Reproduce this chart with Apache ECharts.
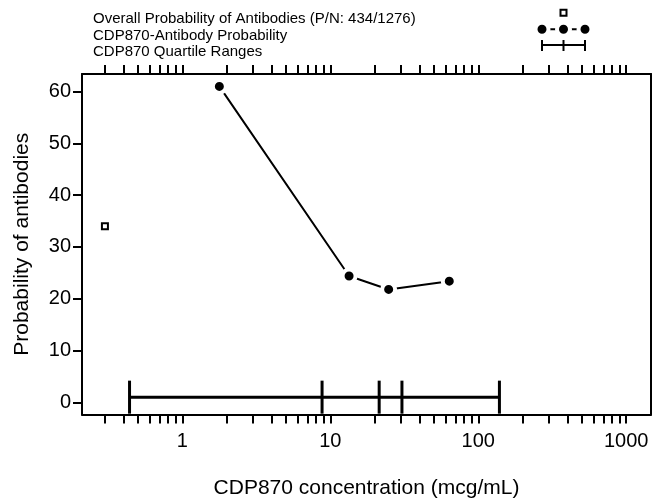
<!DOCTYPE html>
<html>
<head>
<meta charset="utf-8">
<title>CDP870 antibody probability</title>
<script src="https://cdn.jsdelivr.net/npm/echarts@6/dist/echarts.min.js"></script>
<style>
  html, body { margin: 0; padding: 0; background: #fff; }
  #chart { width: 652px; height: 500px; }
</style>
</head>
<body>
<div id="chart"></div>
<script>
// Antibody probability per CDP870 concentration quartile
const concentration = [1.78, 13.4, 24.8, 63.7];          // mcg/mL, quartile centres
const probability = [61.0, 24.4, 21.8, 23.4];            // %
// Quartile boundaries (min, Q1, median, Q3, max) in mcg/mL
const quartileBounds = [0.44, 8.8, 21.4, 30.5, 139];
const quartileLevel = 1.0;
// Overall probability, 434 of 1276 patients
const overallConcentration = 0.3;
const overallProbability = 34.0;

// Axis ticks and labels
const xTickValues = [0.3, 0.4, 0.5, 0.6, 0.7, 0.8, 0.9,
  1, 2, 3, 4, 5, 6, 7, 8, 9,
  10, 20, 30, 40, 50, 60, 70, 80, 90,
  100, 200, 300, 400, 500, 600, 700, 800, 900, 1000];
const xLabelValues = [1, 10, 100, 1000];
const yLabelValues = [0, 10, 20, 30, 40, 50, 60];

const legendLabels = [
  'Overall Probability of Antibodies (P/N: 434/1276)',
  'CDP870-Antibody Probability',
  'CDP870 Quartile Ranges'
];

const FONT = '"Liberation Sans", Arial, sans-serif';
const INK = '#000';

const chart = echarts.init(document.getElementById('chart'), null, { renderer: 'canvas' });

const xRange = { min: 0.21, max: 1470 };
const yRange = { min: -2.35, max: 63.4 };

function logAxis(position, withLabels) {
  return {
    type: 'log',
    logBase: 10,
    position: position,
    min: xRange.min,
    max: xRange.max,
    axisLine: { show: true, onZero: false, lineStyle: { color: INK, width: 2 } },
    axisTick: { show: true, inside: false, length: 9, customValues: xTickValues,
      lineStyle: { color: INK, width: 2 } },
    axisLabel: withLabels ? {
      show: true, customValues: xLabelValues, margin: 17,
      fontSize: 20, fontFamily: FONT, color: INK,
      formatter: v => String(Math.round(v))
    } : { show: false },
    splitLine: { show: false },
    minorTick: { show: false },
    minorSplitLine: { show: false }
  };
}

function valueAxis(position, withLabels) {
  return {
    type: 'value',
    position: position,
    min: yRange.min,
    max: yRange.max,
    axisLine: { show: true, onZero: false, lineStyle: { color: INK, width: 2 } },
    axisTick: { show: true, inside: false, length: withLabels ? 9 : 3,
      customValues: yLabelValues, lineStyle: { color: INK, width: 2 } },
    axisLabel: withLabels ? {
      show: true, customValues: yLabelValues, margin: 11,
      fontSize: 20, fontFamily: FONT, color: INK
    } : { show: false },
    splitLine: { show: false }
  };
}

const bottomAxis = logAxis('bottom', true);
bottomAxis.name = 'CDP870 concentration (mcg/mL)';
bottomAxis.nameLocation = 'middle';
bottomAxis.nameGap = 63;
bottomAxis.nameTextStyle = { fontSize: 21, fontFamily: FONT, color: INK };

const leftAxis = valueAxis('left', true);
leftAxis.name = 'Probability of antibodies';
leftAxis.nameLocation = 'middle';
leftAxis.nameGap = 49;
leftAxis.nameTextStyle = { fontSize: 21, fontFamily: FONT, color: INK };

// Legend drawn at the top: labels on the left, keys on the right
const legendRows = [19, 36, 52];
const keyLeft = 542, keyMid = 563.5, keyRight = 585;
const legendGraphics = legendLabels.map((t, i) => ({
  type: 'text', x: 93, y: legendRows[i], silent: true,
  style: { text: t, fontSize: 15, fontFamily: FONT, fill: INK, verticalAlign: 'middle' }
}));
legendGraphics.push(
  { type: 'rect', silent: true, shape: { x: keyMid - 3, y: 9.7, width: 6, height: 6 },
    style: { fill: '#fff', stroke: INK, lineWidth: 2 } },
  { type: 'line', silent: true, shape: { x1: keyLeft, y1: 29.3, x2: keyRight, y2: 29.3 },
    style: { stroke: INK, lineWidth: 2 } },
  ...[keyLeft, keyMid, keyRight].map(cx => ({
    type: 'circle', silent: true, z: 2, shape: { cx: cx, cy: 29.3, r: 6.5 },
    style: { fill: INK, stroke: '#fff', lineWidth: 4 }
  })),
  { type: 'line', silent: true, shape: { x1: keyLeft, y1: 45, x2: keyRight, y2: 45 },
    style: { stroke: INK, lineWidth: 2 } },
  ...[keyLeft, keyMid, keyRight].map(cx => ({
    type: 'line', silent: true, shape: { x1: cx, y1: 40, x2: cx, y2: 51 },
    style: { stroke: INK, lineWidth: 2 }
  }))
);

chart.setOption({
  animation: false,
  backgroundColor: '#fff',
  textStyle: { fontFamily: FONT },
  grid: { left: 82, right: 1, top: 74, bottom: 85.5, containLabel: false, outerBoundsMode: 'none' },
  xAxis: [bottomAxis, logAxis('top', false)],
  yAxis: [leftAxis, valueAxis('right', false)],
  graphic: legendGraphics,
  series: [
    {
      name: 'CDP870 Quartile Ranges',
      type: 'line',
      data: quartileBounds.map(x => [x, quartileLevel]),
      symbol: 'rect',
      symbolSize: [3, 33],
      lineStyle: { color: INK, width: 3 },
      itemStyle: { color: INK },
      emphasis: { disabled: true },
      z: 2
    },
    {
      name: 'CDP870-Antibody Probability',
      type: 'line',
      data: concentration.map((x, i) => [x, probability[i]]),
      symbol: 'circle',
      symbolSize: 13,
      showAllSymbol: true,
      lineStyle: { color: INK, width: 2 },
      itemStyle: { color: INK, borderColor: '#fff', borderWidth: 4 },
      emphasis: { disabled: true },
      z: 3
    },
    {
      name: 'Overall Probability of Antibodies',
      type: 'scatter',
      data: [[overallConcentration, overallProbability]],
      symbol: 'rect',
      symbolSize: 6,
      itemStyle: { color: '#fff', borderColor: INK, borderWidth: 2, opacity: 1 },
      emphasis: { disabled: true },
      z: 3
    }
  ]
});
</script>
</body>
</html>
